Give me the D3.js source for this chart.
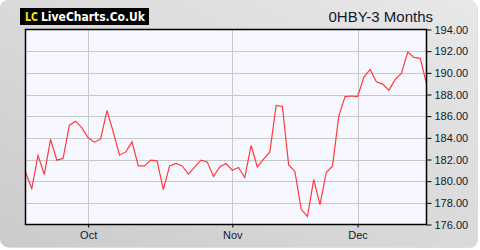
<!DOCTYPE html>
<html>
<head>
<meta charset="utf-8">
<script src="https://cdn.jsdelivr.net/npm/d3@7"></script>
<style>
  body { margin: 0; background: #fff; }
  svg { display: block; }
</style>
</head>
<body>
<script>
const W = 480, H = 250;

// closing prices, one per trading day
const prices = [
  180.85, 179.32, 182.37, 180.62, 183.85, 181.94, 182.1, 185.17, 185.54, 184.92,
  184.0, 183.6, 183.9, 186.52, 184.55, 182.4, 182.7, 183.63, 181.41, 181.41,
  181.94, 181.87, 179.23, 181.41, 181.63, 181.41, 180.65, 181.29, 181.94, 181.78,
  180.43, 181.32, 181.63, 181.01, 181.26, 180.34, 183.29, 181.32, 182.03, 182.7,
  187.0, 186.9, 181.5, 180.9, 177.4, 176.75, 180.15, 177.84, 180.8, 181.41,
  186.0, 187.8, 187.86, 187.8, 189.58, 190.32, 189.17, 188.96, 188.4, 189.4,
  189.95, 191.92, 191.43, 191.34, 189.0
];
const monthIdx = [10, 33, 53];
const monthLabels = ['Oct', 'Nov', 'Dec'];
const yTicks = [176, 178, 180, 182, 184, 186, 188, 190, 192, 194];
const title = '0HBY-3 Months';

const plot = { left: 25.5, right: 426.5, top: 29.5, bottom: 224.5 };

const svg = d3.select('body').append('svg').attr('width', W).attr('height', H);

const grad = svg.append('defs').append('linearGradient').attr('id', 'bg')
  .attr('x1', '0').attr('y1', '1').attr('x2', '1').attr('y2', '0');
grad.append('stop').attr('offset', '0').attr('stop-color', '#cbcbcb');
grad.append('stop').attr('offset', '1').attr('stop-color', '#e8e8e8');

svg.append('rect').attr('x', 2).attr('y', 2).attr('width', 476).attr('height', 246)
  .attr('rx', 8).style('fill', '#bbb').style('opacity', 0.5);
svg.append('rect').attr('x', 0).attr('y', 0).attr('width', 477).attr('height', 247)
  .attr('rx', 8).style('fill', 'url(#bg)');

const x = d3.scaleLinear().domain([0, prices.length - 1]).range([plot.left, plot.right]);
const y = d3.scaleLinear().domain([176, 194]).range([plot.bottom, plot.top]);

svg.append('rect').attr('x', plot.left).attr('y', plot.top)
  .attr('width', plot.right - plot.left).attr('height', plot.bottom - plot.top)
  .style('fill', '#f7f8ff');

svg.selectAll('line.hgrid').data(yTicks.slice(1, -1)).enter().append('line').classed('hgrid', true)
  .attr('x1', plot.left).attr('x2', plot.right)
  .attr('y1', d => Math.round(y(d)) + 0.5).attr('y2', d => Math.round(y(d)) + 0.5)
  .style('stroke', '#c8c8c8');

svg.selectAll('line.vgrid').data(monthIdx).enter().append('line').classed('vgrid', true)
  .attr('x1', d => Math.round(x(d)) + 0.5).attr('x2', d => Math.round(x(d)) + 0.5)
  .attr('y1', plot.top).attr('y2', plot.bottom)
  .style('stroke', '#c8c8c8');

const line = d3.line().x((d, i) => x(i)).y(d => y(d));
svg.append('path').datum(prices).attr('d', line)
  .style('fill', 'none').style('stroke', '#ff3b3b').style('stroke-width', 1.2);

svg.append('rect').attr('x', plot.left).attr('y', plot.top)
  .attr('width', plot.right - plot.left).attr('height', plot.bottom - plot.top)
  .style('fill', 'none').style('stroke', '#000').style('stroke-width', 1.5);

const yAxis = d3.axisRight(y).tickValues(yTicks).tickFormat(d3.format('.2f')).tickSize(5).tickPadding(3);
const gy = svg.append('g').attr('transform', `translate(${plot.right},0)`).call(yAxis);
gy.select('.domain').remove();

const xAxis = d3.axisBottom(x).tickValues(monthIdx).tickFormat((d, i) => monthLabels[i]).tickSize(3).tickPadding(4);
const gx = svg.append('g').attr('transform', `translate(0,${plot.bottom})`).call(xAxis);
gx.select('.domain').remove();

svg.selectAll('.tick text').style('font-family', '"Liberation Sans", Arial, sans-serif')
  .style('font-size', '11px').style('fill', '#101830');
svg.selectAll('.tick line').style('stroke', '#000');

svg.append('text').attr('x', 433).attr('y', 22).attr('text-anchor', 'end')
  .style('font-family', '"Liberation Sans", Arial, sans-serif').style('font-size', '15px')
  .style('fill', '#101830').text(title);

// logo badge
svg.append('rect').attr('x', 20).attr('y', 8).attr('width', 129).attr('height', 17).style('fill', '#000');
svg.append('text').attr('x', 25).attr('y', 21)
  .style('font-family', '"DejaVu Sans", sans-serif').style('font-size', '12.5px').style('font-weight', 'bold')
  .style('fill', '#f5e600').attr('textLength', 13).attr('lengthAdjust', 'spacingAndGlyphs').text('LC');
svg.append('text').attr('x', 41).attr('y', 21)
  .style('font-family', '"DejaVu Sans", sans-serif').style('font-size', '12.5px').style('font-weight', 'bold')
  .style('fill', '#fff').attr('textLength', 104).attr('lengthAdjust', 'spacingAndGlyphs').text('LiveCharts.Co.Uk');
</script>
</body>
</html>
